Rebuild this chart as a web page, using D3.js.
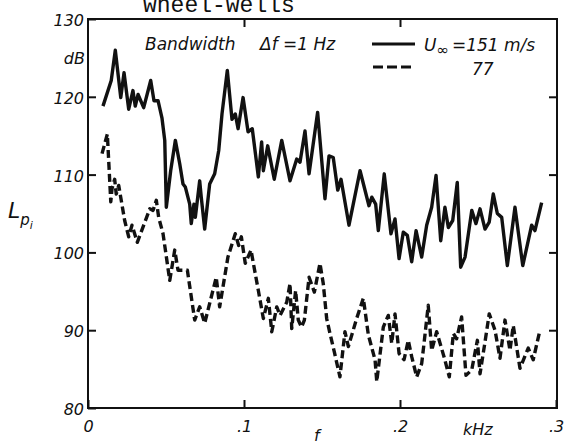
<!DOCTYPE html>
<html>
<head>
<meta charset="utf-8">
<title>wheel-wells</title>
<script src="https://cdn.jsdelivr.net/npm/d3@7/dist/d3.min.js"></script>
<style>
  body { margin: 0; background: #fff; }
  svg { display: block; }
  text { font-family: "DejaVu Sans", sans-serif; font-style: italic; fill: #111; }
</style>
</head>
<body>
<svg id="chart"></svg>
<script>
// spectrum: frequency in kHz, level in dB
const solidF = [0.0096,0.0149,0.0175,0.0210,0.0231,0.0261,0.0288,0.0303,0.0321,0.0357,
  0.0402,0.0423,0.0449,0.0474,0.0492,0.0502,0.0530,0.0560,0.0588,0.0609,
  0.0624,0.0652,0.0662,0.0679,0.0688,0.0716,0.0726,0.0748,0.0780,0.0812,
  0.0838,0.0859,0.0893,0.0923,0.0944,0.0962,0.0994,0.1026,
  0.1053,0.1092,0.1113,0.1124,0.1152,0.1194,0.1242,0.1295,0.1338,0.1359,
  0.1391,0.1417,0.1472,0.1519,0.1545,0.1572,0.1601,0.1622,0.1673,0.1744,
  0.1801,0.1819,0.1844,0.1861,0.1899,0.1942,0.1968,0.1994,
  0.2021,0.2047,0.2075,0.2103,0.2139,0.2171,0.2203,0.2231,0.2261,0.2288,
  0.2310,0.2338,0.2367,0.2389,0.2417,0.2460,0.2487,0.2513,0.2545,0.2572,
  0.2598,0.2624,0.2652,0.2688,0.2737,0.2787,0.2844,0.2865,0.2908];
const solidDb = [118.8,122.1,126.0,119.9,123.1,118.4,120.8,118.8,120.3,118.6,
  122.1,119.5,119.5,117.3,114.4,105.8,110.5,114.4,111.4,108.8,
  108.4,106.2,103.7,106.2,104.5,109.2,107.1,103.0,108.8,110.1,
  113.1,117.8,123.4,117.1,117.8,115.9,119.9,115.5,
  115.9,109.7,114.2,110.5,113.7,109.4,114.4,109.2,112.0,111.6,
  115.6,110.1,118.0,106.9,112.4,112.2,108.0,109.4,103.5,110.5,
  106.0,107.1,106.2,102.8,110.1,102.4,104.3,99.2,
  102.6,102.2,98.8,102.8,99.4,103.5,105.8,109.9,101.5,105.8,
  103.2,104.1,109.0,98.1,99.4,105.4,103.7,105.6,103.0,103.9,
  107.5,105.0,104.5,98.3,105.8,98.3,103.5,102.8,106.4];

const dashF = [0.0090,0.0124,0.0146,0.0154,0.0171,0.0181,0.0197,0.0235,0.0261,0.0282,
  0.0316,0.0396,0.0417,0.0438,0.0453,0.0481,0.0524,0.0556,0.0577,0.0637,
  0.0684,0.0716,0.0748,0.0822,0.0844,0.0897,0.0944,0.0966,0.0983,0.1008,
  0.1045,0.1060,0.1092,0.1124,0.1156,0.1178,0.1210,0.1231,0.1274,0.1295,
  0.1306,0.1331,0.1348,0.1369,0.1387,0.1417,0.1451,0.1487,0.1508,0.1530,
  0.1551,0.1579,0.1615,0.1647,0.1669,0.1722,0.1765,0.1797,0.1840,0.1851,
  0.1893,0.1925,0.1947,0.1968,0.1994,0.2026,
  0.2053,0.2075,0.2107,0.2139,0.2154,0.2181,0.2203,0.2235,0.2282,0.2316,
  0.2342,0.2363,0.2395,0.2423,0.2460,0.2496,0.2513,0.2545,0.2572,0.2609,
  0.2641,0.2673,0.2705,0.2726,0.2769,0.2822,0.2854,0.2897];
const dashDb = [112.7,115.2,106.5,108.2,109.4,107.5,108.6,104.1,102.0,103.5,
  101.3,105.6,105.4,106.7,104.5,102.4,96.4,100.3,97.7,97.7,
  91.3,93.0,90.9,96.8,93.0,99.4,102.4,100.9,102.0,98.6,
  100.3,98.6,95.1,91.5,94.1,89.8,93.0,91.9,93.6,96.0,
  90.2,95.1,91.3,90.4,91.3,96.8,94.9,98.6,96.0,91.5,
  89.6,87.2,84.0,89.8,87.9,91.5,94.1,89.4,86.2,83.4,
  90.4,91.9,88.3,92.1,87.0,86.2,
  88.7,86.6,84.0,85.7,88.3,93.2,87.4,89.8,86.6,84.0,
  89.6,88.9,91.7,84.2,84.9,88.7,84.4,88.5,92.1,90.0,
  86.4,91.3,87.4,90.6,85.1,87.7,86.2,90.0];

const yTicks = [80, 90, 100, 110, 120, 130];
const xTicks = [0, 0.1, 0.2, 0.3];
const xTickLabels = ['0', '.1', '.2', '.3'];

const w = 564;
const h = 445;
const mLeft = 88, mRight = 556, mTop = 19, mBottom = 408;

let svg = d3.select('#chart').attr('width', w).attr('height', h);

const x = d3.scaleLinear().domain([0, 0.3]).range([mLeft, mRight]);
const y = d3.scaleLinear().domain([80, 130]).range([mBottom, mTop]);

// title, sitting right at the top edge like the scan
svg.append('text')
  .attr('x', 143).attr('y', 12)
  .style('font-family', '"Liberation Mono", monospace')
  .style('font-style', 'normal')
  .style('font-size', '23px')
  .text('wheel-wells');

// frame
svg.append('rect')
  .attr('x', mLeft).attr('y', mTop)
  .attr('width', mRight - mLeft + 1).attr('height', mBottom - mTop)
  .style('fill', 'none').style('stroke', '#111').style('stroke-width', 2);

// inward ticks on all four sides
let yAxis = d3.axisLeft(y).tickValues(yTicks).tickSize(-8).tickPadding(5).tickFormat(d3.format('d'));
let gy = svg.append('g').attr('transform', `translate(${mLeft},0)`).call(yAxis);
let gyr = svg.append('g').attr('transform', `translate(${mRight + 1},0)`)
  .call(d3.axisRight(y).tickValues([90, 100, 110, 120]).tickSize(-8).tickFormat(''));
let xAxis = d3.axisBottom(x).tickValues(xTicks).tickSize(-8).tickPadding(10)
  .tickFormat((d, i) => xTickLabels[i]);
let gx = svg.append('g').attr('transform', `translate(0,${mBottom})`).call(xAxis);
let gxt = svg.append('g').attr('transform', `translate(0,${mTop})`)
  .call(d3.axisTop(x).tickValues([0.1, 0.2]).tickSize(-8).tickFormat(''));

[gy, gyr, gx, gxt].forEach(g => {
  g.select('.domain').remove();
  g.selectAll('line').style('stroke', '#111').style('stroke-width', 2);
  g.selectAll('text').style('font-family', '"DejaVu Sans", sans-serif')
    .style('font-style', 'italic').style('font-size', '16px').style('fill', '#111');
});
gy.selectAll('text').attr('x', -4).attr('dy', '0.4em');
gx.selectAll('text').attr('dy', '0.9em');

// extra axis labels
svg.append('text').attr('x', 85).attr('y', 64).attr('text-anchor', 'end')
  .style('font-size', '16px').text('dB');
let lp = svg.append('text').attr('x', 8).attr('y', 218).style('font-size', '22px');
lp.append('tspan').text('L');
lp.append('tspan').attr('dy', 7).style('font-size', '15px').text('p');
lp.append('tspan').attr('dy', 4).style('font-size', '11px').text('i');
svg.append('text').attr('x', 463).attr('y', 435).style('font-size', '16px').text('kHz');
svg.append('text').attr('x', 314).attr('y', 441).style('font-size', '16px').text('f');

// legend
svg.append('text').attr('x', 145).attr('y', 50).style('font-size', '17px').text('Bandwidth');
svg.append('text').attr('x', 260).attr('y', 50).style('font-size', '17px').text('\u0394f =1 Hz');
svg.append('line').attr('x1', 372).attr('x2', 415).attr('y1', 44).attr('y2', 44)
  .style('stroke', '#111').style('stroke-width', 3);
svg.append('line').attr('x1', 373).attr('x2', 415).attr('y1', 67).attr('y2', 67)
  .style('stroke', '#111').style('stroke-width', 3).style('stroke-dasharray', '10,4');
let ul = svg.append('text').attr('x', 424).attr('y', 51).style('font-size', '17px');
ul.append('tspan').text('U');
ul.append('tspan').attr('dy', 4).style('font-size', '15px').text('\u221e');
ul.append('tspan').attr('dy', -4).attr('dx', 3).text('=151 m/s');
svg.append('text').attr('x', 472).attr('y', 75).style('font-size', '17px').text('77');

// spectra
let lineFn = d3.line().x(d => x(d[0])).y(d => y(d[1]));

svg.append('path')
  .attr('d', lineFn(d3.zip(solidF, solidDb)))
  .style('fill', 'none').style('stroke', '#111')
  .style('stroke-width', 3.4).style('stroke-linejoin', 'round');

svg.append('path')
  .attr('d', lineFn(d3.zip(dashF, dashDb)))
  .style('fill', 'none').style('stroke', '#111')
  .style('stroke-width', 3.4).style('stroke-linejoin', 'round')
  .style('stroke-dasharray', '8,4');
</script>
</body>
</html>
